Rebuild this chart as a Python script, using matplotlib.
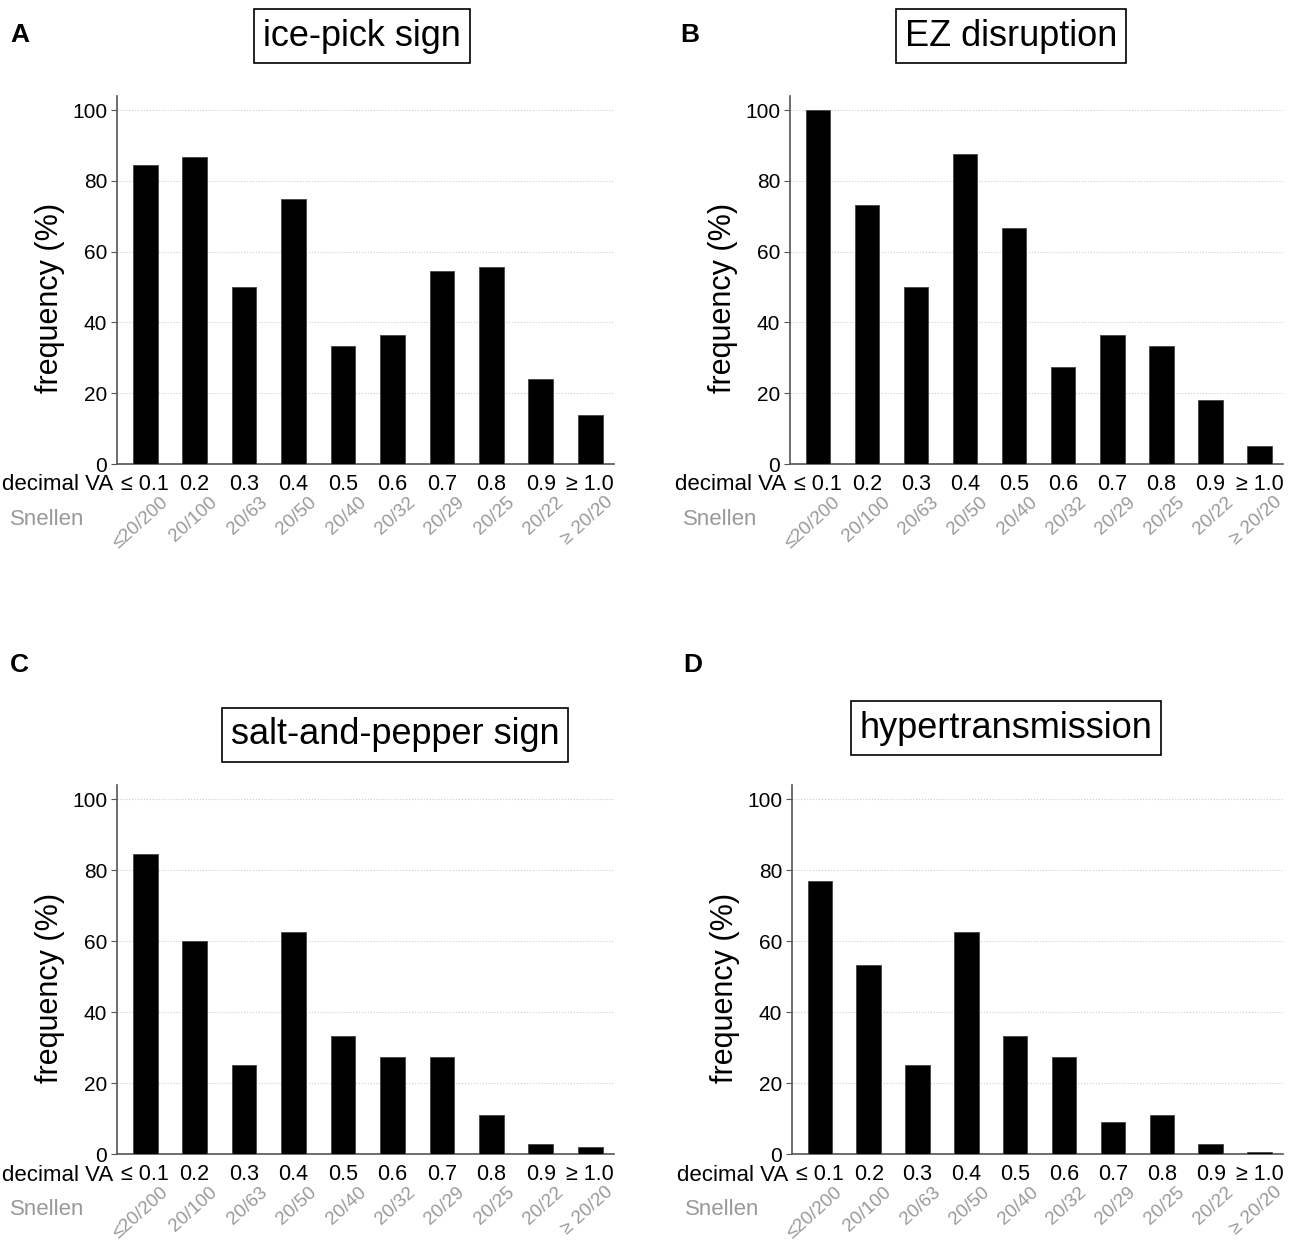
import matplotlib
matplotlib.use('Agg')
import matplotlib.pyplot as plt
import matplotlib.transforms as mtransforms

plt.rcParams['font.family'] = ['Liberation Sans', 'DejaVu Sans']

# 数据
decimal_va = ['≤ 0.1', '0.2', '0.3', '0.4', '0.5', '0.6', '0.7', '0.8', '0.9', '≥ 1.0']
snellen = ['≤20/200', '20/100', '20/63', '20/50', '20/40', '20/32', '20/29', '20/25', '20/22', '≥ 20/20']

ice_pick = [84.6, 86.7, 50.0, 75.0, 33.3, 36.4, 54.5, 55.6, 24.0, 13.8]
ez_disruption = [100.0, 73.3, 50.0, 87.5, 66.7, 27.3, 36.4, 33.3, 18.2, 5.2]
salt_pepper = [84.6, 60.0, 25.0, 62.5, 33.3, 27.3, 27.3, 11.1, 2.9, 2.1]
hypertrans = [76.9, 53.3, 25.0, 62.5, 33.3, 27.3, 9.1, 11.1, 2.9, 0.6]

titles = ['ice-pick sign', 'EZ disruption', 'salt-and-pepper sign', 'hypertransmission']
letters = ['A', 'B', 'C', 'D']
series = [ice_pick, ez_disruption, salt_pepper, hypertrans]

W, H = 1296, 1244
fig = plt.figure(figsize=(W / 100, H / 100), dpi=100)

# 像素位置 (左, 右, 顶, 底)
boxes = [(117, 614, 96, 464), (790, 1283, 96, 464),
         (117, 614, 785, 1154), (792, 1283, 785, 1154)]
title_pos = [(362, 36), (1011, 36), (395, 735), (1006, 728)]
letter_pos = [(10, 35), (680, 35), (10, 665), (683, 665)]

gray = '#999999'
x = list(range(len(decimal_va)))

for i in range(4):
    l, r, t, b = boxes[i]
    ax = fig.add_axes([l / W, 1 - b / H, (r - l) / W, (b - t) / H])
    ax.bar(x, series[i], width=0.5, color='black', edgecolor='#444444', linewidth=0.6, zorder=3)
    ax.set_xlim(-0.57, 9.48)
    ax.set_ylim(0, 104)
    ax.set_yticks([0, 20, 40, 60, 80, 100])
    ax.yaxis.grid(True, color='#cccccc', linestyle=':', linewidth=0.8, zorder=0)
    for s in ['top', 'right']:
        ax.spines[s].set_visible(False)
    for s in ['left', 'bottom']:
        ax.spines[s].set_color('#555555')
        ax.spines[s].set_linewidth(1.2)
    ax.set_xticks(x)
    ax.set_xticklabels(decimal_va, fontsize=15.5)
    ax.tick_params(axis='x', length=0, pad=7)
    ax.tick_params(axis='y', length=4, color='#555555', labelsize=15, pad=3)
    ax.set_ylabel('frequency (%)', fontsize=22)
    ax.yaxis.set_label_coords(-0.105, 0.45)

    trans = mtransforms.blended_transform_factory(ax.transData, ax.transAxes)
    for j, lab in enumerate(snellen):
        ax.text(j + 0.3, -0.08, lab, transform=trans, rotation=42, rotation_mode='anchor',
                ha='right', va='top', fontsize=13.5, color=gray)
    ax.text(-0.008, -0.057, 'decimal VA', transform=ax.transAxes, ha='right', va='center', fontsize=16)
    ax.text(-0.066, -0.15, 'Snellen', transform=ax.transAxes, ha='right', va='center', fontsize=16, color=gray)

    tx, ty = title_pos[i]
    fig.text(tx / W, 1 - ty / H, titles[i], ha='center', va='center', fontsize=26,
             bbox=dict(boxstyle='square,pad=0.25', facecolor='white', edgecolor='black', linewidth=1.2))
    lx, ly = letter_pos[i]
    fig.text(lx / W, 1 - ly / H, letters[i], ha='left', va='center', fontsize=19, fontweight='bold')

plt.savefig('out.png', dpi=100)
plt.close()
